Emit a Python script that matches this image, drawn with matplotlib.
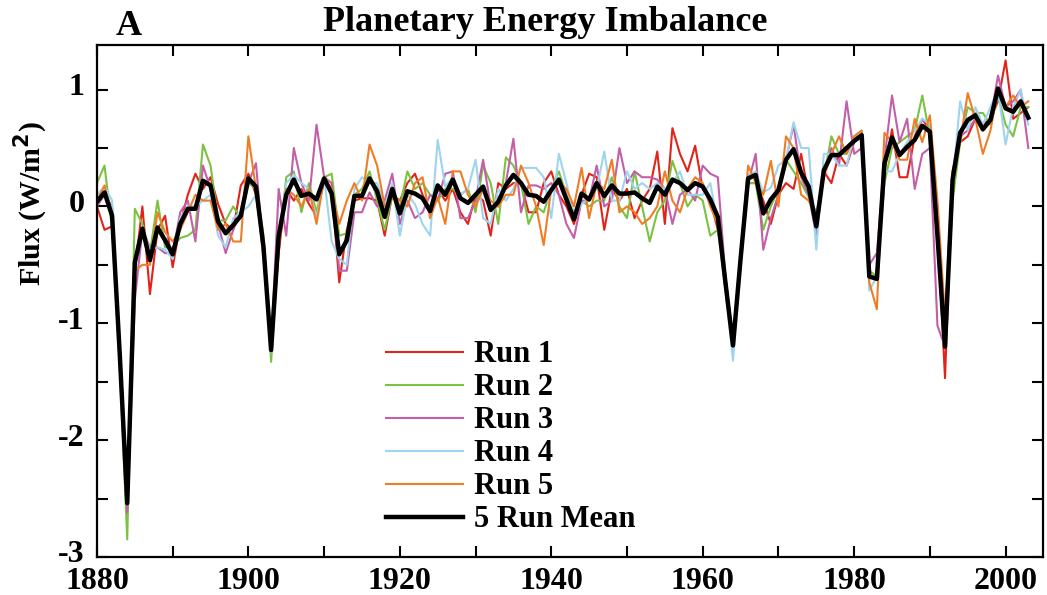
import matplotlib
matplotlib.use("Agg")
import matplotlib.pyplot as plt
import matplotlib.transforms as mtransforms
from matplotlib.ticker import MultipleLocator

plt.rcParams['font.family'] = ['Liberation Serif', 'DejaVu Serif']
plt.rcParams['font.weight'] = 'bold'
plt.rcParams['axes.unicode_minus'] = False

years = list(range(1880, 2004))

run1 = [0.0, -0.2, -0.17, -1.2, -2.45, -0.55, 0.0, -0.75, -0.2, -0.08,
        -0.52, -0.15, 0.1, 0.28, 0.15, 0.25, 0.02, -0.15, -0.2, 0.18,
        0.28, 0.1, -0.35, -1.2, -0.4, 0.15, 0.05, 0.15, 0.02, -0.08,
        0.22, 0.15, -0.65, -0.2, 0.05, 0.07, 0.07, 0.05, -0.25, 0.1,
        0.05, 0.2, 0.28, 0.1, -0.05, 0.15, 0.05, 0.15, -0.05, -0.15,
        0.1, 0.05, -0.25, 0.2, 0.15, 0.2, 0.2, -0.05, -0.05, 0.2,
        0.3, 0.1, 0.0, -0.15, 0.1, 0.28, 0.25, -0.2, 0.15, 0.05,
        0.15, -0.1, 0.05, 0.15, 0.47, -0.15, 0.67, 0.45, 0.3, 0.52,
        0.15, 0.05, -0.2, -0.6, -1.15, -0.4, 0.2, 0.2, 0.05, -0.15,
        0.1, 0.2, 0.15, 0.45, 0.1, -0.1, 0.3, 0.2, 0.45, 0.35,
        0.55, 0.6, -0.6, -0.6, 0.3, 0.66, 0.25, 0.25, 0.6, 0.75,
        0.65, -0.15, -1.47, 0.3, 0.55, 0.6, 0.75, 0.7, 0.75, 0.9,
        1.25, 0.75, 0.8, 0.85]

run2 = [0.2, 0.35, -0.2, -1.35, -2.85, -0.02, -0.15, -0.4, 0.05, -0.35,
        -0.35, -0.27, -0.25, -0.2, 0.53, 0.35, -0.12, -0.12, 0.0, -0.1,
        0.2, 0.15, -0.25, -1.33, -0.35, 0.25, 0.3, -0.05, 0.2, -0.05,
        0.25, 0.28, -0.25, -0.23, 0.1, 0.15, 0.3, 0.05, -0.2, 0.1,
        0.0, 0.3, 0.15, 0.2, 0.1, 0.05, 0.15, 0.15, 0.1, 0.15,
        -0.05, 0.35, 0.2, -0.15, 0.42, 0.35, 0.2, -0.15, 0.0, -0.05,
        0.15, 0.3, 0.1, -0.05, 0.05, 0.0, 0.05, 0.05, 0.25, 0.0,
        -0.1, 0.3, 0.0, -0.3, -0.05, 0.05, 0.39, 0.2, 0.0, 0.1,
        0.05, -0.25, -0.2, -0.7, -1.15, -0.5, 0.2, 0.2, -0.2, 0.0,
        0.15, 0.4, 0.3, 0.2, 0.08, -0.05, 0.25, 0.6, 0.45, 0.45,
        0.6, 0.6, -0.55, -0.6, 0.2, 0.5, 0.55, 0.6, 0.65, 0.95,
        0.6, 0.0, -1.2, 0.05, 0.55, 0.85, 0.8, 0.8, 0.7, 0.95,
        0.7, 0.6, 0.85, 0.85]

run3 = [0.0, 0.1, 0.0, -1.2, -2.62, -0.8, -0.2, -0.35, -0.35, -0.4,
        -0.4, -0.05, 0.05, -0.3, 0.35, 0.15, -0.15, -0.4, -0.2, -0.05,
        0.2, 0.37, -0.4, -1.2, 0.15, -0.25, 0.5, 0.2, 0.05, 0.7,
        0.25, 0.2, -0.55, -0.55, -0.05, -0.05, 0.12, 0.0, 0.05, 0.28,
        -0.15, 0.05, -0.1, -0.05, 0.1, 0.05, 0.28, 0.3, -0.1, -0.1,
        0.05, 0.4, 0.0, 0.0, 0.2, 0.58, -0.05, 0.18, 0.18, 0.15,
        0.2, 0.1, -0.15, -0.27, 0.05, 0.05, 0.35, 0.0, 0.05, 0.5,
        0.2, 0.3, 0.25, 0.25, 0.23, 0.15, -0.15, 0.1, 0.15, 0.05,
        0.35, 0.28, 0.25, -0.6, -1.15, -0.45, 0.2, 0.45, -0.37, -0.1,
        0.1, 0.4, 0.7, 0.25, 0.1, -0.25, 0.3, 0.5, 0.35, 0.9,
        0.45, 0.5, -0.5, -0.4, 0.4, 0.95, 0.55, 0.75, 0.15, 0.45,
        0.5, -1.02, -1.2, 0.3, 0.6, 0.65, 0.75, 0.65, 0.75, 1.12,
        0.85, 0.9, 1.0, 0.5]

run4 = [0.1, 0.17, 0.05, -1.3, -2.45, -0.48, -0.2, -0.37, -0.35, -0.37,
        -0.45, -0.1, 0.0, 0.0, 0.05, 0.1, -0.25, -0.35, -0.1, -0.05,
        0.0, 0.1, -0.3, -1.25, -0.3, 0.2, 0.27, 0.2, 0.15, -0.1,
        0.25, -0.3, -0.45, -0.5, 0.15, 0.25, 0.2, 0.2, 0.0, 0.2,
        -0.25, 0.1, 0.02, -0.15, -0.25, 0.57, 0.17, 0.25, 0.1, 0.15,
        0.4, -0.1, -0.15, 0.15, 0.05, 0.15, 0.33, 0.33, 0.33, 0.25,
        -0.1, 0.45, 0.2, -0.08, 0.02, 0.07, 0.15, 0.47, 0.05, 0.05,
        0.3, 0.15, 0.2, 0.15, 0.2, 0.15, 0.2, 0.3, 0.1, 0.1,
        0.1, 0.2, -0.15, -0.7, -1.32, -0.5, 0.27, 0.3, 0.12, 0.16,
        0.35, 0.4, 0.72, 0.5, 0.5, -0.37, 0.45, 0.45, 0.35, 0.35,
        0.6, 0.65, -0.72, -0.6, 0.3, 0.3, 0.45, 0.55, 0.65, 0.75,
        0.7, -0.1, -1.2, 0.2, 0.9, 0.65, 0.85, 0.7, 0.85, 1.0,
        0.53, 0.85, 1.0, 0.7]

run5 = [0.05, 0.18, -0.1, -1.2, -2.4, -0.55, -0.5, -0.5, -0.05, -0.22,
        -0.3, -0.2, -0.05, 0.1, 0.05, 0.05, -0.2, -0.15, -0.3, -0.3,
        0.6, 0.15, -0.45, -1.17, -0.35, 0.15, 0.1, 0.0, 0.15, -0.15,
        0.25, 0.15, -0.15, 0.05, 0.2, 0.05, 0.53, 0.35, 0.0, 0.07,
        0.05, 0.0, 0.2, 0.25, -0.1, 0.08, -0.15, 0.3, 0.3, 0.1,
        0.0, 0.15, 0.05, 0.0, 0.1, 0.1, 0.35, 0.2, 0.0, -0.33,
        0.15, 0.2, 0.15, 0.0, 0.33, -0.1, 0.2, 0.15, 0.4, -0.05,
        0.0, -0.05, -0.15, -0.1, 0.0, 0.3, 0.05, -0.05, 0.15, 0.25,
        0.2, 0.0, -0.15, -0.65, -1.18, -0.4, 0.35, 0.2, 0.1, 0.39,
        0.0, 0.6, 0.5, 0.1, 0.05, -0.1, 0.25, 0.45, 0.6, 0.45,
        0.6, 0.65, -0.65, -0.88, 0.63, 0.55, 0.4, 0.4, 0.75, 0.55,
        0.78, 0.05, -0.95, 0.3, 0.55, 0.97, 0.75, 0.45, 0.65, 1.0,
        0.85, 0.95, 0.85, 0.9]

mean5 = [0.04, 0.12, -0.08, -1.25, -2.54, -0.48, -0.19, -0.46, -0.18, -0.29,
         -0.41, -0.15, -0.02, -0.02, 0.22, 0.18, -0.13, -0.23, -0.16, -0.08,
         0.24, 0.17, -0.35, -1.23, -0.25, 0.10, 0.23, 0.09, 0.11, 0.06,
         0.24, 0.11, -0.41, -0.29, 0.09, 0.09, 0.24, 0.13, -0.09, 0.15,
         -0.06, 0.13, 0.11, 0.07, -0.04, 0.18, 0.10, 0.23, 0.07, 0.03,
         0.10, 0.17, -0.03, 0.04, 0.18, 0.27, 0.20, 0.10, 0.09, 0.04,
         0.14, 0.23, 0.06, -0.11, 0.11, 0.06, 0.20, 0.09, 0.18, 0.11,
         0.11, 0.12, 0.07, 0.03, 0.17, 0.10, 0.23, 0.20, 0.14, 0.20,
         0.17, 0.06, -0.09, -0.65, -1.19, -0.45, 0.24, 0.27, -0.06, 0.06,
         0.14, 0.40, 0.49, 0.29, 0.17, -0.17, 0.31, 0.44, 0.44, 0.50,
         0.56, 0.61, -0.60, -0.62, 0.37, 0.59, 0.44, 0.51, 0.57, 0.69,
         0.64, -0.25, -1.20, 0.23, 0.63, 0.74, 0.78, 0.66, 0.74, 1.01,
         0.84, 0.81, 0.90, 0.76]

labels = ['Run 1', 'Run 2', 'Run 3', 'Run 4', 'Run 5', '5 Run Mean']
colors = ['#e2231a', '#7cc242', '#c35fa8', '#9fd4ef', '#f07d26', 'black']

fig = plt.figure(figsize=(10.47, 5.95), dpi=100)
ax = fig.add_axes([0.0926, 0.064, 0.904, 0.860])

for run, lab, col in zip([run1, run2, run3, run4, run5], labels, colors):
    ax.plot(years, run, color=col, lw=1.5, label=lab)
ax.plot(years, mean5, color='black', lw=3.2, label=labels[5])

ax.set_xlim(1880, 2005)
ax.set_ylim(-3, 1.38)
ax.xaxis.set_major_locator(MultipleLocator(20))
ax.xaxis.set_minor_locator(MultipleLocator(10))
ax.yaxis.set_major_locator(MultipleLocator(1))
ax.yaxis.set_minor_locator(MultipleLocator(0.5))
ax.tick_params(which='both', direction='in', top=True, right=True,
               length=8, width=1.5, labelsize=23)
ax.tick_params(axis='x', pad=7)
ax.tick_params(axis='y', pad=9)
for s in ax.spines.values():
    s.set_linewidth(1.6)

# nudge the y tick labels up a little so "-3" clears "1880"
up = mtransforms.ScaledTranslation(0, 4 / 72, fig.dpi_scale_trans)
for t in ax.get_yticklabels():
    t.set_transform(t.get_transform() + up)
for t in ax.get_xticklabels() + ax.get_yticklabels():
    t.set_fontweight('bold')

ax.set_ylabel('Flux (W/m$^\\mathbf{2}$)', fontsize=21.5, fontweight='bold')
ax.yaxis.set_label_coords(-0.05, 0.69)
fig.text(0.521, 0.962, 'Planetary Energy Imbalance', ha='center', va='center',
         fontsize=26, fontweight='bold')
fig.text(0.123, 0.955, 'A', ha='center', va='center', fontsize=26, fontweight='bold')

leg = ax.legend(loc='upper left', bbox_to_anchor=(0.293, 0.447), frameon=False,
                fontsize=22, handlelength=2.5, handletextpad=0.35,
                labelspacing=0.13, borderaxespad=0)

fig.savefig('out.png', dpi=100)
